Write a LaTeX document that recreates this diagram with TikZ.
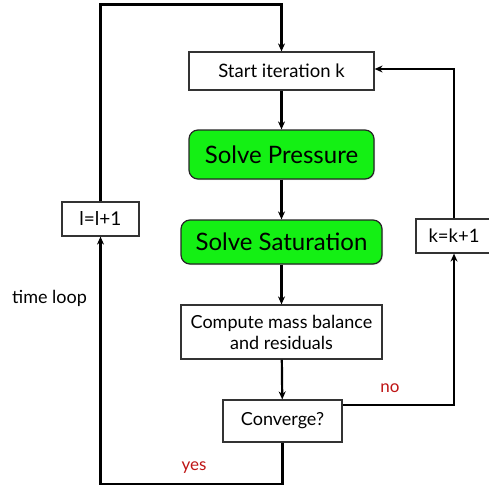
\documentclass[tikz,border=0pt]{standalone}
\usepackage{fontspec}
\setmainfont{Lato}
\usetikzlibrary{arrows.meta,shadows}
\definecolor{boxgreen}{RGB}{20,240,20}
\definecolor{lblred}{RGB}{190,20,20}
\tikzset{
  plainbox/.style={draw=black!80, line width=1.2pt, fill=white, inner sep=0pt,
    drop shadow={opacity=0.25, shadow xshift=1pt, shadow yshift=-1pt}},
  greenbox/.style={draw=black!85, line width=1.2pt, fill=boxgreen, rounded corners=9pt, inner sep=0pt,
    drop shadow={opacity=0.25, shadow xshift=1pt, shadow yshift=-1pt}},
  conn/.style={line width=2.2pt, black},
  arr/.style={conn, -{Stealth[length=8pt,width=7pt]}},
  lbl/.style={text=lblred, font=\fontsize{17}{19}\selectfont}
}
\begin{document}
\begin{tikzpicture}[x=1pt,y=-1pt]
\useasboundingbox (0,0) rectangle (489,487);
\node[plainbox, minimum width=185pt, minimum height=38pt, font=\fontsize{18.5}{20}\selectfont] (start) at (281.5,71) {Start iteration k};
\node[greenbox, minimum width=185pt, minimum height=49pt, font=\fontsize{24}{26}\selectfont] (press) at (281.5,154.5) {Solve Pressure};
\node[greenbox, minimum width=201pt, minimum height=44pt, font=\fontsize{24}{26}\selectfont] (sat) at (281.5,242) {Solve Saturation};
\node[plainbox, minimum width=201pt, minimum height=54pt, align=center, font=\fontsize{18}{21}\selectfont] (comp) at (281.5,332) {Compute mass balance\\and residuals};
\node[plainbox, minimum width=119pt, minimum height=42pt, font=\fontsize{18}{20}\selectfont] (conv) at (282.5,421) {Converge?};
\node[plainbox, minimum width=77pt, minimum height=34pt, font=\fontsize{19}{20}\selectfont] (lbox) at (100.5,219) {l=l+1};
\node[plainbox, minimum width=76pt, minimum height=34pt, font=\fontsize{18.5}{20}\selectfont] (kbox) at (454,236) {k=k+1};
\node[font=\fontsize{18}{20}\selectfont, anchor=west, inner sep=0pt] (tl) at (12,298) {time loop};
\node[lbl] (no) at (390,388) {no};
\node[lbl] (yes) at (194,468) {yes};
\coordinate (tl1) at (100.5,4.5);
\coordinate (bl1) at (100.5,484);
\coordinate (tr1) at (454,69);
\coordinate (br1) at (454,405);
\draw[arr] (lbox.north) -- (tl1) -| (start.north);
\draw[arr] (start) -- (press);
\draw[arr] (press) -- (sat);
\draw[arr] (sat) -- (comp);
\draw[arr] (comp) -- (conv);
\draw[arr] (conv.south) |- (bl1) -- (lbox.south);
\draw[arr] (conv.east |- br1) -- (br1) -- (kbox.south);
\draw[arr] (kbox.north) -- (tr1) -- (start.east |- tr1);
\end{tikzpicture}
\end{document}
